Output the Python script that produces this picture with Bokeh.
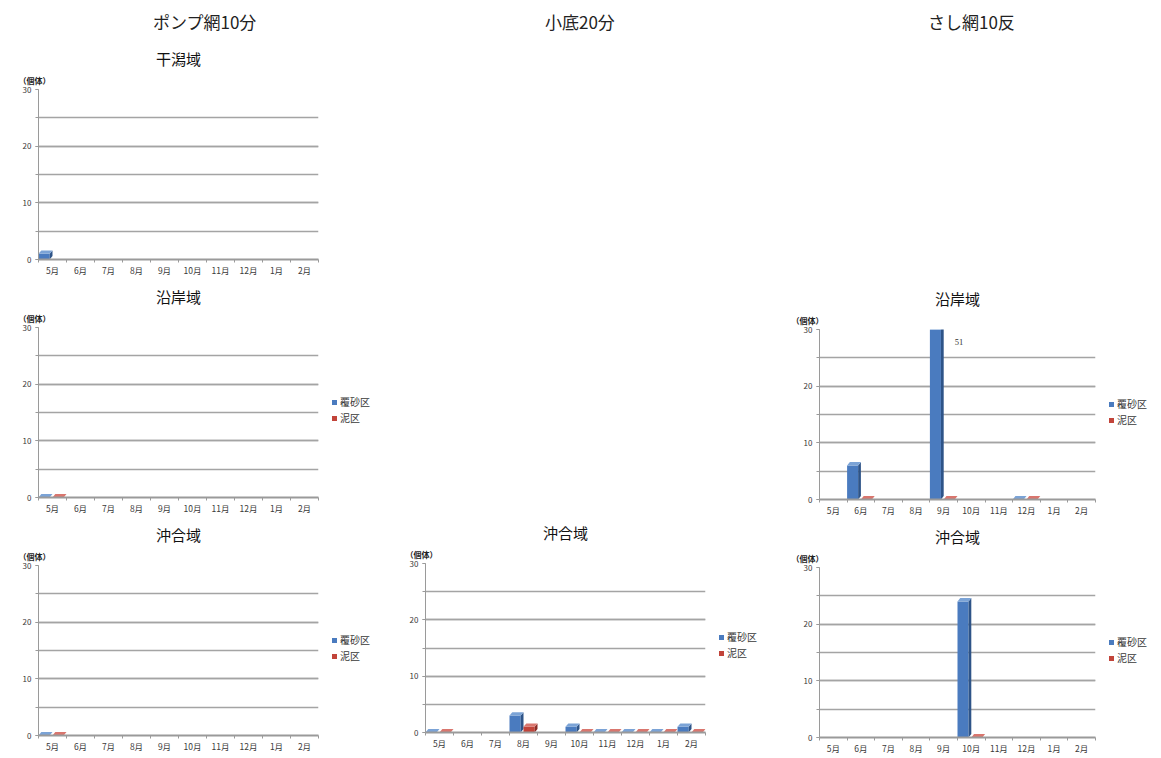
from bokeh.plotting import figure
from bokeh.models import (Range1d, FixedTicker, SingleIntervalTicker, Title,
                          Div, Spacer)
from bokeh.layouts import row, column
from bokeh.embed import file_html
from bokeh.resources import INLINE

# ---------------- data ----------------
months = ["5月", "6月", "7月", "8月", "9月", "10月", "11月", "12月", "1月", "2月"]
series_names = ["覆砂区", "泥区"]
gear_titles = ["ポンプ網10分", "小底20分", "さし網10反"]
area_titles = ["干潟域", "沿岸域", "沖合域"]
unit_label = "（個体）"
y_max = 30
y_ticks_step = 10

# ポンプ網10分
pump_higata_fusa = [1, None, None, None, None, None, None, None, None, None]
pump_engan_fusa = [0, None, None, None, None, None, None, None, None, None]
pump_engan_doro = [0, None, None, None, None, None, None, None, None, None]
pump_oki_fusa = [0, None, None, None, None, None, None, None, None, None]
pump_oki_doro = [0, None, None, None, None, None, None, None, None, None]
# 小底20分
kosoko_oki_fusa = [0, None, None, 3, None, 1, 0, 0, 0, 1]
kosoko_oki_doro = [0, None, None, 1, None, 0, 0, 0, 0, 0]
# さし網10反
sashi_engan_fusa = [None, 6, None, None, 51, None, None, 0, None, None]
sashi_engan_doro = [None, 0, None, None, 0, None, None, 0, None, None]
sashi_oki_fusa = [None, None, None, None, None, 24, None, None, None, None]
sashi_oki_doro = [None, None, None, None, None, 0, None, None, None, None]

# ---------------- style ----------------
FONT = "Noto Sans CJK JP"
BLUE = ("#4A7BBF", "#2E5488", "#7BA3D6")
RED = ("#C2443A", "#8A2C26", "#D9766E")
GRID = "#A4A4A4"
AXIS = "#9A9A9A"
LABEL_C = "#3A3A3A"
FW = 0.40   # front face width (category units)
DX = 0.10   # 3D depth, x (category units)
DY = 0.6    # 3D depth, y (data units)


def panel(title, fusa, doro, fw, fh, ml, mr, mt, mb, unit_dx):
    n = len(months)
    p = figure(frame_width=fw, frame_height=fh, x_range=Range1d(0, n),
               y_range=Range1d(0, y_max), output_backend="svg",
               toolbar_location=None, min_border_left=ml, min_border_right=mr,
               min_border_top=mt, min_border_bottom=mb, title=title)
    p.outline_line_color = None

    p.add_layout(Title(text=unit_label, align="left", offset=unit_dx,
                       text_font=FONT, text_font_size="8px", text_font_style="bold",
                       text_color="#222222", standoff=8), "above")

    p.title.align = "center"
    p.title.offset = 17
    p.title.standoff = 0
    p.title.text_font = FONT
    p.title.text_font_size = "15px"
    p.title.text_font_style = "normal"
    p.title.text_color = "#111111"

    centers = [i + 0.5 for i in range(n)]
    xa = p.xaxis[0]
    xa.ticker = FixedTicker(ticks=centers, minor_ticks=list(range(n + 1)))
    xa.major_label_overrides = {c: m for c, m in zip(centers, months)}
    xa.major_tick_line_color = None
    xa.major_tick_out = 0
    xa.major_tick_in = 0
    xa.minor_tick_line_color = AXIS
    xa.minor_tick_in = 0
    xa.minor_tick_out = 3
    xa.axis_line_color = AXIS
    xa.axis_line_width = 2
    xa.major_label_text_font = FONT
    xa.major_label_text_font_size = "8.5px"
    xa.major_label_text_color = LABEL_C
    xa.major_label_standoff = 1

    ya = p.yaxis[0]
    ya.ticker = SingleIntervalTicker(interval=y_ticks_step, num_minor_ticks=2)
    ya.axis_line_color = AXIS
    ya.major_tick_line_color = AXIS
    ya.minor_tick_line_color = AXIS
    ya.major_tick_in = 0
    ya.major_tick_out = 3
    ya.minor_tick_in = 0
    ya.minor_tick_out = 3
    ya.major_label_text_font = FONT
    ya.major_label_text_font_size = "8px"
    ya.major_label_text_color = LABEL_C
    ya.major_label_standoff = 4

    p.xgrid.grid_line_color = None
    p.ygrid.grid_line_color = GRID
    p.ygrid.grid_line_width = 1.4
    p.ygrid.minor_grid_line_color = GRID
    p.ygrid.minor_grid_line_width = 1.4

    for vals, off, cols in [(fusa, -0.5, BLUE), (doro, 0.0, RED)]:
        if vals is None:
            continue
        idx = [i for i, v in enumerate(vals) if v is not None]
        lefts = [centers[i] + off for i in idx]
        rights = [l + FW for l in lefts]
        tops = [min(vals[i], y_max) for i in idx]
        p.quad(left=lefts, right=rights, bottom=0, top=tops,
               fill_color=cols[0], line_color=None)
        p.patches([[r, r + DX, r + DX, r] for r in rights],
                  [[0, DY, t + DY, t] for t in tops],
                  fill_color=cols[1], line_color=None)
        p.patches([[l, r, r + DX, l + DX] for l, r in zip(lefts, rights)],
                  [[t, t, t + DY, t + DY] for t in tops],
                  fill_color=cols[2], line_color=None)
        over = [i for i in idx if vals[i] > y_max]
        if over:
            p.text(x=[centers[i] + off + 0.5 + FW for i in over],
                   y=[y_max for _ in over], text=[str(vals[i]) for i in over],
                   text_font=FONT, text_font_size="8.5px", text_color="#333333",
                   text_baseline="middle", text_align="left", y_offset=12)
    return p


def legend_div(width, height, mt, fh):
    top = int(mt + fh / 2 - 3 - 16)
    rows = "".join(
        f'<div style="height:16px;line-height:16px;white-space:nowrap">'
        f'<span style="display:inline-block;width:5px;height:5px;background:{c};'
        f'vertical-align:middle;margin-right:3px"></span>'
        f'<span style="vertical-align:middle">{name}</span></div>'
        for name, c in zip(series_names, [BLUE[0], RED[0]]))
    return Div(text=f'<div style="padding-top:{top}px;padding-left:6px;'
                    f'font-family:\'{FONT}\';font-size:10px;color:{LABEL_C}">{rows}</div>',
               width=width, height=height, margin=0)


def with_legend(p, width, height, mt, fh):
    return row(p, legend_div(width, height, mt, fh))


def header(text, width, left):
    return Div(text=f'<div style="padding-left:{left}px;padding-top:10px;'
                    f'font-family:\'{FONT}\';font-size:17px;color:#222;">{text}</div>',
               width=width, height=45, margin=0)


# column 1 (390 px)
p1 = panel(area_titles[0], pump_higata_fusa, None, 280, 170, 38, 72, 39, 22, -20)
p2 = panel(area_titles[1], pump_engan_fusa, pump_engan_doro, 280, 170, 38, 8, 46, 22, -20)
p3 = panel(area_titles[2], pump_oki_fusa, pump_oki_doro, 280, 170, 38, 8, 46, 24, -20)
col1 = column(header(gear_titles[0], 390, 153), p1,
              with_legend(p2, 64, 238, 46, 170),
              with_legend(p3, 64, 240, 46, 170))

# column 2 (385 px)
p4 = panel(area_titles[2], kosoko_oki_fusa, kosoko_oki_doro, 280, 169, 35, 8, 46, 22, -20)
col2 = column(header(gear_titles[1], 385, 155), Spacer(width=385, height=472, margin=0),
              with_legend(p4, 62, 237, 46, 169))

# column 3 (386 px)
p5 = panel(area_titles[1], sashi_engan_fusa, sashi_engan_doro, 276, 170, 44, 8, 46, 22, -28)
p6 = panel(area_titles[2], sashi_oki_fusa, sashi_oki_doro, 276, 170, 44, 8, 46, 20, -28)
col3 = column(header(gear_titles[2], 386, 153), Spacer(width=386, height=238, margin=0),
              with_legend(p5, 58, 238, 46, 170),
              with_legend(p6, 58, 236, 46, 170))

layout = row(col1, col2, col3)

with open("out.html", "w") as f:
    f.write(file_html(layout, INLINE))
